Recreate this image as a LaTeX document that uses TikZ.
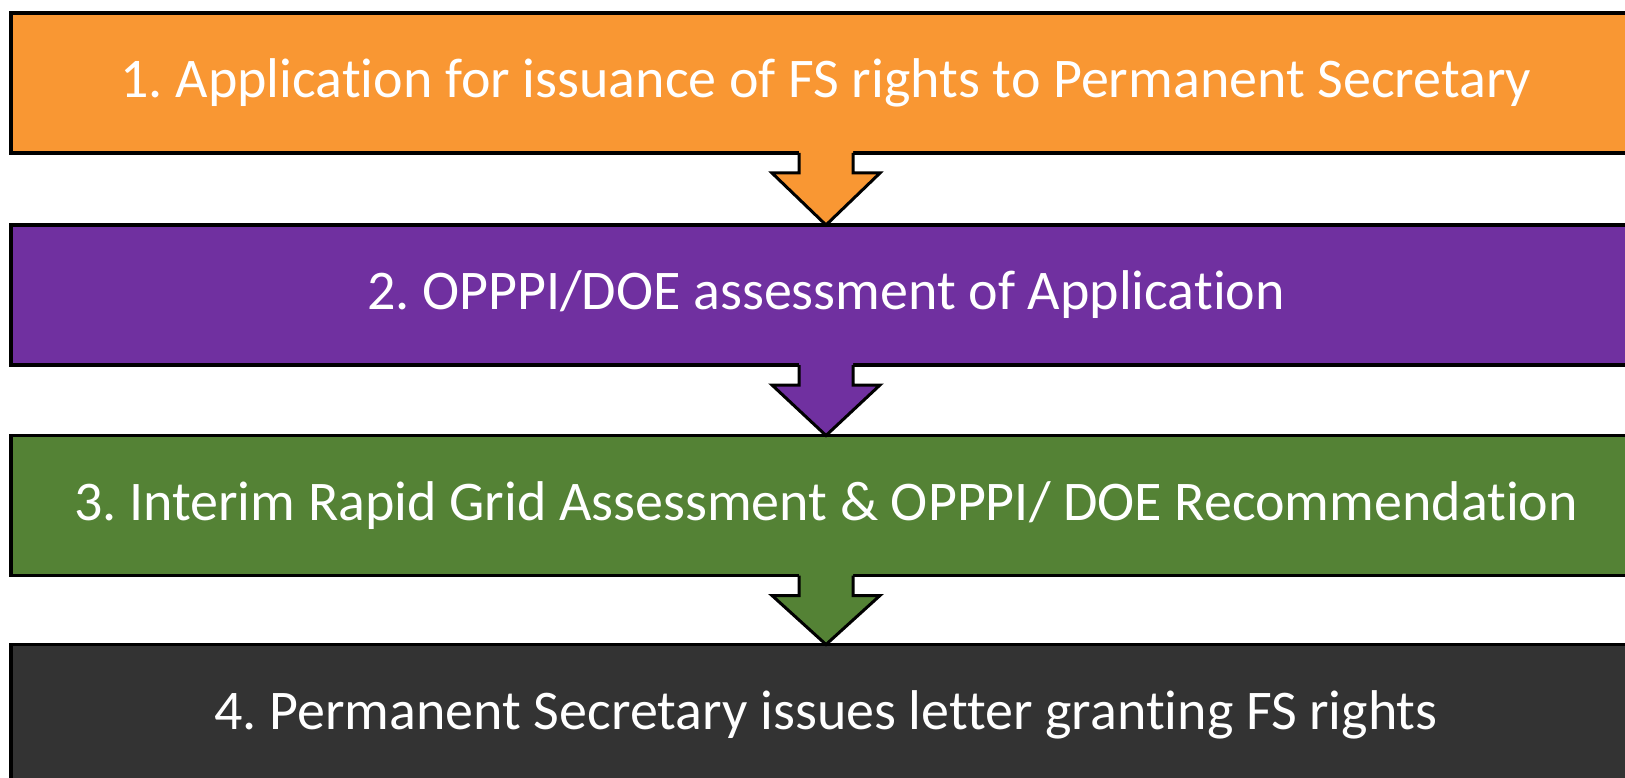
\documentclass[tikz,border=0pt]{standalone}
\usepackage{fontspec}
\setmainfont[Ligatures={NoCommon}]{Carlito}
\frenchspacing
\usetikzlibrary{calc}
\definecolor{cOrange}{HTML}{F99733}
\definecolor{cPurple}{HTML}{7030A0}
\definecolor{cGreen}{HTML}{548235}
\definecolor{cDark}{HTML}{333333}
\tikzset{
  stagebox/.style={draw=black, line width=3.5pt, fill=#1, minimum width=1630pt,
    minimum height=140pt, inner sep=0pt, outer sep=0pt, text=white,
    font=\fontsize{56}{68}\selectfont},
}
\newcommand{\flowarrow}[3]{%
  \fill[#3] ($(#1.south)+(-27pt,4pt)$) -- ($(#1.south)+(-27pt,-20pt)$) --
    ($(#1.south)+(-54pt,-20pt)$) -- (#2.north) -- ($(#1.south)+(54pt,-20pt)$) --
    ($(#1.south)+(27pt,-20pt)$) -- ($(#1.south)+(27pt,4pt)$) -- cycle;
  \draw[black, line width=3pt, line join=miter] ($(#1.south)+(-27pt,0pt)$) -- ($(#1.south)+(-27pt,-20pt)$) --
    ($(#1.south)+(-54pt,-20pt)$) -- (#2.north) -- ($(#1.south)+(54pt,-20pt)$) --
    ($(#1.south)+(27pt,-20pt)$) -- ($(#1.south)+(27pt,0pt)$);
}
\begin{document}
\begin{tikzpicture}[x=1pt, y=-1pt]
\useasboundingbox (0,0) rectangle (1625,778);
\clip (0,0) rectangle (1625,778);
\fill[white] (0,0) rectangle (1625,778);
\node[stagebox=cOrange] (b1) at (826,83) {1. Application for issuance of FS rights to Permanent Secretary};
\node[stagebox=cPurple] (b2) at (826,295) {2. OPPPI/DOE assessment of Application};
\node[stagebox=cGreen] (b3) at (826,505.5) {3. Interim Rapid Grid Assessment \& OPPPI/ DOE Recommendation};
\node[stagebox=cDark] (b4) at (826,714.5) {};
\node[text=white, font=\fontsize{56}{68}\selectfont, inner sep=0pt] (t4) at (826,715) {4. Permanent Secretary issues letter granting FS rights};
\flowarrow{b1}{b2}{cOrange}
\flowarrow{b2}{b3}{cPurple}
\flowarrow{b3}{b4}{cGreen}
\end{tikzpicture}
\end{document}
